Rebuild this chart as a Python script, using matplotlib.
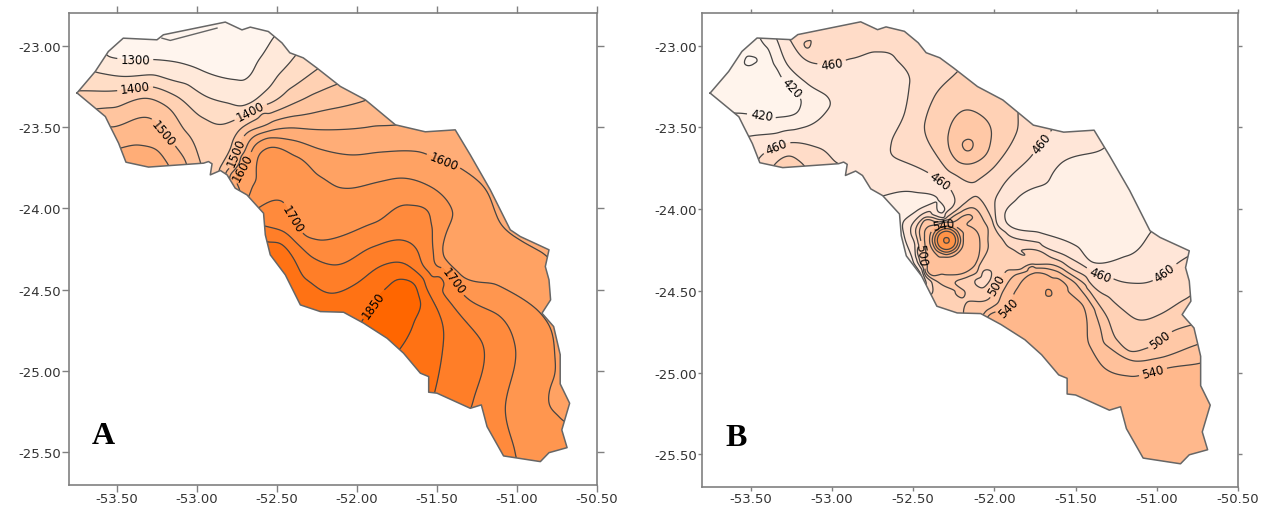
import numpy as np
import matplotlib
matplotlib.use('Agg')
import matplotlib.pyplot as plt
import matplotlib.tri as mtri
from matplotlib.patches import Polygon

plt.rcParams['axes.unicode_minus'] = False

# outline of the basin, lon/lat
outline = [(-53.75,-23.29),(-53.636,-23.158),(-53.554,-23.035),(-53.461,-22.953),(-53.25,-22.963),(-53.21,-22.932),
    (-52.823,-22.854),(-52.719,-22.902),(-52.667,-22.885),(-52.554,-22.912),(-52.469,-22.982),(-52.42,-23.043),
    (-52.336,-23.074),(-52.25,-23.137),(-52.104,-23.25),(-51.948,-23.332),(-51.76,-23.486),(-51.573,-23.529),
    (-51.386,-23.517),(-51.292,-23.671),(-51.167,-23.886),(-51.042,-24.132),(-50.98,-24.173),(-50.8,-24.255),
    (-50.823,-24.358),(-50.8,-24.44),(-50.79,-24.563),(-50.844,-24.645),(-50.771,-24.727),(-50.73,-24.90),
    (-50.73,-25.08),(-50.671,-25.199),(-50.72,-25.363),(-50.687,-25.472),(-50.8,-25.503),(-50.854,-25.558),
    (-51.084,-25.523),(-51.187,-25.343),(-51.223,-25.209),(-51.292,-25.23),(-51.5,-25.137),(-51.552,-25.131),
    (-51.552,-25.035),(-51.604,-25.014),(-51.709,-24.891),(-51.812,-24.799),(-51.959,-24.706),(-52.084,-24.639),
    (-52.229,-24.635),(-52.354,-24.594),(-52.448,-24.409),(-52.542,-24.286),(-52.573,-24.163),(-52.584,-24.03),
    (-52.688,-23.917),(-52.761,-23.876),(-52.812,-23.794),(-52.854,-23.767),(-52.917,-23.794),(-52.906,-23.726),
    (-52.928,-23.712),(-52.959,-23.722),(-53.303,-23.746),(-53.444,-23.716),(-53.49,-23.599),(-53.542,-23.497),
    (-53.573,-23.435)]
sliver = [(-53.219,-22.953),(-53.167,-22.967),(-52.875,-22.891)]

# panel A: points read along each isoline
iso_a = {
    1300: [(-53.604,-23.012),(-53.561,-23.068),(-53.448,-23.086),(-53.26,-23.086),(-52.979,-23.148),(-52.76,-23.209),
           (-52.698,-23.209),(-52.604,-23.074),(-52.523,-22.951),(-52.48,-22.889)],
    1350: [(-53.667,-23.148),(-53.625,-23.164),(-53.437,-23.189),(-53.167,-23.209),(-52.961,-23.302),(-52.812,-23.351),
           (-52.688,-23.363),(-52.563,-23.271),(-52.479,-23.166),(-52.398,-23.076),(-52.354,-23.012)],
    1400: [(-53.792,-23.277),(-53.75,-23.277),(-53.511,-23.277),(-53.271,-23.254),(-53.125,-23.312),(-52.959,-23.445),
           (-52.812,-23.476),(-52.667,-23.404),(-52.542,-23.353),(-52.26,-23.152),(-52.198,-23.098)],
    1450: [(-53.70,-23.42),(-53.625,-23.388),(-53.312,-23.322),(-53.187,-23.374),(-53.062,-23.537),(-52.979,-23.722),
           (-52.948,-23.825),(-52.867,-23.837),(-52.854,-23.751),(-52.792,-23.64),(-52.773,-23.578),(-52.71,-23.498),
           (-52.586,-23.412),(-52.373,-23.345),(-52.135,-23.24),(-52.042,-23.197)],
    1500: [(-53.604,-23.468),(-53.531,-23.5),(-53.292,-23.445),(-53.211,-23.535),(-53.125,-23.63),(-53.067,-23.72),
           (-53.042,-23.825),(-52.842,-23.855),(-52.779,-23.732),(-52.742,-23.64),(-52.688,-23.535),(-52.563,-23.486),
           (-52.27,-23.412),(-51.969,-23.343),(-51.886,-23.302)],
    1550: [(-53.511,-23.64),(-53.459,-23.623),(-53.375,-23.609),(-53.25,-23.64),(-53.184,-23.722),(-53.154,-23.825),
           (-52.786,-23.886),(-52.729,-23.681),(-52.667,-23.578),(-52.523,-23.517),(-52.292,-23.513),(-52.062,-23.513),
           (-51.687,-23.476),(-51.573,-23.443)],
    1600: [(-52.823,-23.886),(-52.761,-23.812),(-52.677,-23.691),(-52.636,-23.609),(-52.563,-23.568),(-52.417,-23.578),
           (-52.25,-23.63),(-52.042,-23.671),(-51.854,-23.654),(-51.625,-23.65),(-51.461,-23.712),(-51.354,-23.753),
           (-51.229,-23.845),(-51.125,-24.05),(-51.0,-24.183),(-50.854,-24.266),(-50.73,-24.33)],
    1650: [(-52.729,-23.978),(-52.677,-23.927),(-52.646,-23.855),(-52.615,-23.671),(-52.542,-23.623),(-52.375,-23.681),
           (-52.229,-23.804),(-52.084,-23.876),(-51.854,-23.835),(-51.709,-23.814),(-51.542,-23.866),(-51.406,-24.009),
           (-51.459,-24.297),(-51.354,-24.409),(-51.125,-24.471),(-50.854,-24.645),(-50.761,-24.953),(-50.803,-25.189),
           (-50.73,-25.291),(-50.636,-25.363)],
    1700: [(-52.667,-24.04),(-52.604,-23.989),(-52.5,-23.948),(-52.396,-24.071),(-52.334,-24.163),(-52.25,-24.194),
           (-51.896,-24.091),(-51.687,-23.978),(-51.562,-24.009),(-51.531,-24.112),(-51.521,-24.276),(-51.5,-24.358),
           (-51.334,-24.532),(-51.104,-24.666),(-51.011,-24.851),(-51.073,-25.22),(-51.011,-25.506),(-50.98,-25.64)],
    1750: [(-52.636,-24.102),(-52.567,-24.112),(-52.459,-24.143),(-52.271,-24.306),(-52.125,-24.348),(-51.896,-24.235),
           (-51.729,-24.194),(-51.625,-24.255),(-51.479,-24.42),(-51.209,-24.851),(-51.275,-25.189),(-51.323,-25.332)],
    1800: [(-52.636,-24.194),(-52.567,-24.204),(-52.479,-24.214),(-52.312,-24.44),(-52.146,-24.522),(-52.0,-24.46),
           (-51.834,-24.348),(-51.687,-24.348),(-51.562,-24.502),(-51.479,-24.666),(-51.459,-24.809),(-51.511,-25.117),
           (-51.542,-25.24)],
    1850: [(-52.042,-24.778),(-51.959,-24.676),(-51.896,-24.594),(-51.819,-24.491),(-51.729,-24.434),(-51.636,-24.471),
           (-51.604,-24.563),(-51.646,-24.706),(-51.723,-24.854),(-51.792,-24.963)],
}
# panel A: estimates between and outside the isolines
extra_a = [(-51.74,-24.6,1880),(-53.0,-23.0,1270),(-53.7,-22.9,1270),(-53.85,-23.05,1300),(-53.95,-23.28,1400),
    (-53.85,-23.45,1440),(-53.75,-23.5,1480),(-53.65,-23.6,1520),(-53.5,-23.85,1570),(-53.2,-23.9,1580),
    (-52.95,-24.0,1560),(-53.2,-24.0,1580),(-52.8,-24.05,1650),(-52.75,-24.2,1760),(-52.75,-24.35,1830),
    (-52.6,-24.6,1835),(-52.3,-24.8,1840),(-51.9,-25.1,1870),(-51.8,-25.5,1830),(-51.5,-25.6,1770),
    (-51.2,-25.75,1720),(-50.7,-25.75,1660),(-50.45,-25.5,1640),(-50.45,-24.9,1630),(-50.5,-24.3,1620),
    (-50.8,-23.9,1580),(-51.15,-23.5,1560),(-51.6,-23.25,1530),(-51.85,-23.15,1500),(-52.05,-23.05,1450),
    (-52.2,-22.95,1400),(-52.4,-22.85,1340),(-52.6,-22.75,1280),(-53.0,-22.7,1260),(-53.6,-22.8,1260),
    (-54.0,-22.6,1260),(-50.3,-22.6,1600),(-50.3,-25.9,1650),(-54.0,-25.9,1700)]
levels_a = [1300,1350,1400,1450,1500,1550,1600,1650,1700,1750,1800,1850]
colors_a = ['#fff5ee','#ffe9da','#ffddc6','#ffd1b3','#ffc59f','#ffb98b','#ffad77','#ffa263','#ff964f','#ff8a3c',
            '#ff7e28','#ff7214','#ff6600']
labels_a = [(-53.386,-23.086),(-53.386,-23.265),(-53.211,-23.535),(-52.667,-23.404),
    (-52.747,-23.658),(-52.698,-23.763),(-52.398,-24.058),(-51.461,-23.714),
    (-51.417,-24.458),(-51.89,-24.594)]

# panel B
iso_b = {
    400: [(-53.537,-23.093),(-53.496,-23.066),(-53.461,-23.083),(-53.486,-23.113),(-53.527,-23.119)],
    420: [(-53.445,-22.95),(-53.434,-22.97),(-53.321,-23.175),(-53.25,-23.256),(-53.192,-23.328),(-53.229,-23.419),
          (-53.342,-23.44),(-53.434,-23.426),(-53.588,-23.413),(-53.64,-23.4)],
    440: [(-53.342,-22.95),(-53.336,-22.97),(-53.27,-23.123),(-53.147,-23.236),(-53.024,-23.317),(-53.024,-23.389),
          (-53.147,-23.491),(-53.496,-23.552),(-53.537,-23.562),
          (-52.706,-23.924),(-52.675,-23.916),(-52.5,-23.895),(-52.347,-23.94),(-52.316,-24.022),(-52.312,-24.046),
          (-52.48,-24.012),(-52.562,-24.083),(-52.552,-24.175),(-52.5,-24.318),(-52.449,-24.409),
          (-51.33,-23.63),(-51.289,-23.603),(-51.597,-23.726),(-51.864,-23.94),(-51.936,-24.042),(-51.905,-24.103),
          (-51.72,-24.144),(-51.494,-24.226),(-51.402,-24.322),(-51.186,-24.287),(-51.026,-24.128),(-50.981,-24.093)],
    460: [(-53.27,-22.95),(-53.254,-22.97),(-53.167,-23.083),(-53.065,-23.113),(-52.88,-23.079),(-52.736,-23.038),
          (-52.613,-23.072),(-52.521,-23.226),(-52.552,-23.409),(-52.634,-23.593),(-52.593,-23.695),(-52.408,-23.777),
          (-52.336,-23.828),(-52.264,-23.889),(-52.254,-23.981),(-52.306,-24.038),
          (-53.445,-23.685),(-53.342,-23.617),(-53.25,-23.593),(-53.085,-23.624),(-52.972,-23.715),(-52.942,-23.756),
          (-52.316,-24.052),(-52.46,-24.042),(-52.511,-24.103),(-52.49,-24.216),(-52.46,-24.348),(-52.419,-24.45),
          (-51.638,-23.501),(-51.659,-23.532),(-51.71,-23.593),(-51.772,-23.675),(-51.956,-23.869),(-51.997,-23.96),
          (-51.987,-24.083),(-51.905,-24.164),(-51.7,-24.226),(-51.556,-24.287),(-51.433,-24.358),(-51.351,-24.399),
          (-51.258,-24.43),(-51.125,-24.454),(-51.032,-24.44),(-50.95,-24.389),(-50.837,-24.307),(-50.776,-24.277)],
    480: [(-53.172,-22.991),(-53.151,-22.971),(-53.131,-22.991),(-53.157,-23.015),
          (-53.352,-23.726),(-53.27,-23.675),(-53.184,-23.72),
          (-52.223,-23.154),(-52.244,-23.175),(-52.367,-23.307),(-52.428,-23.471),(-52.367,-23.654),(-52.213,-23.807),
          (-52.11,-23.828),(-51.987,-23.726),(-51.864,-23.532),(-51.854,-23.409),(-51.844,-23.368),
          (-52.439,-24.058),(-52.484,-24.124),(-52.464,-24.226),(-52.435,-24.369),(-52.378,-24.491),
          (-52.295,-24.052),(-52.152,-23.94),(-52.07,-23.96),(-52.008,-24.083),(-51.957,-24.175),(-51.905,-24.236),
          (-51.721,-24.256),(-51.535,-24.358),(-51.412,-24.45),(-51.186,-24.634),(-51.094,-24.679),(-50.981,-24.644),
          (-50.827,-24.552),(-50.735,-24.5),
          (-52.114,-24.43),(-52.069,-24.379),(-52.024,-24.43),(-52.069,-24.481)],
    500: [(-52.11,-23.409),(-52.018,-23.532),(-52.059,-23.675),(-52.213,-23.715),(-52.285,-23.552),(-52.213,-23.409),
          (-52.429,-24.067),(-52.46,-24.124),(-52.456,-24.256),(-52.429,-24.369),(-52.347,-24.446),(-52.213,-24.43),
          (-52.09,-24.338),(-52.039,-24.205),(-52.07,-24.062),(-52.141,-23.991),(-52.295,-24.067),
          (-50.714,-24.685),(-50.776,-24.705),(-50.899,-24.746),(-50.981,-24.797),(-51.053,-24.848),(-51.166,-24.869),
          (-51.248,-24.797),(-51.31,-24.654),(-51.433,-24.471),(-51.618,-24.348),(-51.761,-24.338),(-51.843,-24.369),
          (-51.926,-24.379),(-51.987,-24.461),(-52.038,-24.552),(-52.151,-24.563),(-52.182,-24.501),(-52.11,-24.389)],
    520: [(-52.162,-23.573),(-52.131,-23.607),(-52.162,-23.644),(-52.197,-23.607),
          (-52.295,-24.079),(-52.162,-24.032),(-52.09,-24.185),(-52.111,-24.328),(-52.213,-24.399),(-52.316,-24.399),
          (-52.419,-24.328),(-52.429,-24.205),(-52.398,-24.103),
          (-50.714,-24.818),(-50.766,-24.834),(-50.94,-24.899),(-51.125,-24.93),(-51.248,-24.879),(-51.351,-24.716),
          (-51.453,-24.512),(-51.618,-24.379),(-51.761,-24.348),(-51.864,-24.399),(-51.946,-24.501),(-52.038,-24.614),
          (-52.09,-24.675)],
    540: [(-50.673,-24.93),(-50.725,-24.94),(-50.93,-24.971),(-51.023,-24.997),(-51.166,-25.022),(-51.31,-24.981),
          (-51.412,-24.838),(-51.453,-24.593),(-51.597,-24.43),(-51.741,-24.389),(-51.864,-24.491),(-51.915,-24.603),
          (-52.028,-24.644),(-52.069,-24.695),
          (-52.192,-24.191),(-52.222,-24.118),(-52.295,-24.089),(-52.368,-24.118),(-52.398,-24.191),(-52.368,-24.264),
          (-52.295,-24.293),(-52.222,-24.264)],
    560: [(-51.683,-24.507),(-51.669,-24.491),(-51.648,-24.507),(-51.665,-24.532),
          (-52.207,-24.191),(-52.233,-24.129),(-52.295,-24.103),(-52.357,-24.129),(-52.383,-24.191),(-52.357,-24.253),
          (-52.295,-24.279),(-52.233,-24.253)],
    580: [(-52.223,-24.191),(-52.244,-24.14),(-52.295,-24.119),(-52.346,-24.14),(-52.367,-24.191),(-52.346,-24.242),
          (-52.295,-24.263),(-52.244,-24.242)],
    600: [(-52.2375,-24.191),(-52.254,-24.15),(-52.295,-24.1335),(-52.336,-24.15),(-52.3525,-24.191),(-52.336,-24.232),
          (-52.295,-24.2485),(-52.254,-24.232)],
    620: [(-52.279,-24.191),(-52.295,-24.175),(-52.311,-24.191),(-52.295,-24.207)],
}
extra_b = [(-53.5,-23.09,395),(-53.157,-22.99,485),(-52.162,-23.607,530),(-51.665,-24.51,570),(-52.295,-24.191,640),
    (-52.5,-23.96,430),(-52.665,-24.124,430),(-51.433,-24.042,430),(-51.228,-24.144,430),(-51.145,-23.736,430),
    (-51.75,-24.05,434),(-51.6,-23.95,432),(-51.3,-23.9,430),
    (-52.069,-24.43,475),(-53.27,-23.777,490),
    (-51.0,-25.2,548),(-50.85,-25.35,548),(-51.3,-25.1,546),(-51.7,-24.8,548),(-50.8,-25.1,546),(-51.05,-25.4,548),
    (-53.9,-23.3,410),(-53.6,-22.8,410),(-53.0,-22.75,470),(-52.5,-22.75,470),(-52.2,-23.0,470),(-52.0,-23.1,490),
    (-51.75,-23.3,470),(-51.4,-23.4,450),(-51.0,-23.7,430),(-50.7,-24.1,445),(-50.5,-24.4,470),(-50.45,-24.6,490),
    (-50.45,-24.85,525),(-50.45,-25.1,545),(-50.45,-25.7,550),(-51.0,-25.75,550),(-51.6,-25.5,550),(-52.0,-25.0,550),
    (-52.2,-24.8,545),(-52.25,-24.7,500),(-52.45,-24.6,490),(-52.6,-24.5,455),(-52.8,-24.3,432),(-53.0,-24.1,430),
    (-52.9,-23.85,450),(-53.3,-23.85,490),(-53.5,-23.75,455),(-53.65,-23.6,430),(-53.9,-23.7,410),(-53.8,-23.45,415),
    (-54.0,-22.6,400),(-50.3,-22.6,440),(-50.3,-25.9,550),(-54.0,-25.9,450)]
levels_b = [400,420,440,460,480,500,520,540,560,580,600,620]
colors_b = ['#fff6f0','#fff4ec','#fff0e6','#ffe6d8','#ffdcc8','#ffd1b5','#ffc8a6','#ffc19b','#ffb88c','#ffa86f',
            '#ff9c5a','#ff9347','#ff8a38']
labels_b = [(-53.003,-23.095),(-53.25,-23.256),(-53.434,-23.426),(-53.342,-23.617),(-52.336,-23.828),
    (-51.71,-23.593),(-51.351,-24.399),(-50.95,-24.389),(-50.981,-24.797),(-51.023,-24.997),
    (-51.987,-24.461),(-51.915,-24.603),(-52.45,-24.28),(-52.316,-24.09)]


def make_grid(iso, extra, blur):
    pts = [(x, y, lev) for lev, line in iso.items() for x, y in line] + extra
    xs, ys, zs = np.array(pts).T
    tri = mtri.Triangulation(xs, ys)
    interp = mtri.CubicTriInterpolator(tri, zs, kind='geom')
    gx, gy = np.meshgrid(np.arange(-53.85, -50.44, 0.005), np.arange(-25.75, -22.75, 0.005))
    gz = interp(gx, gy).filled(np.median(zs))
    # round off what corners the triangles leave
    kernel = np.ones(blur) / blur
    for _ in range(2):
        gz = np.apply_along_axis(lambda r: np.convolve(r, kernel, mode='same'), 1, gz)
        gz = np.apply_along_axis(lambda r: np.convolve(r, kernel, mode='same'), 0, gz)
    return gx[blur:-blur, blur:-blur], gy[blur:-blur, blur:-blur], gz[blur:-blur, blur:-blur]


def draw_panel(ax, iso, extra, levels, colors, labels, letter, blur, tick_len):
    gx, gy, gz = make_grid(iso, extra, blur)
    clip = Polygon(outline, closed=True, transform=ax.transData, fc='none', ec='none')
    ax.add_patch(clip)
    fill_levels = [levels[0] - 500] + levels + [levels[-1] + 500]
    cf = ax.contourf(gx, gy, gz, levels=fill_levels, colors=colors)
    cf.set_clip_path(clip)
    cs = ax.contour(gx, gy, gz, levels=levels, colors='#444444', linewidths=0.9)
    cs.set_clip_path(clip)
    ax.clabel(cs, manual=labels, fmt='%d', fontsize=8.5, inline=True, inline_spacing=3, colors='black')
    bx, by = zip(*(outline + outline[:1]))
    ax.plot(bx, by, color='#666666', lw=1.1)
    ax.set_xlim(-53.8, -50.5)
    ax.set_ylim(-25.7, -22.8)
    ax.set_xticks([-53.5, -53.0, -52.5, -52.0, -51.5, -51.0, -50.5])
    ax.set_yticks([-23.0, -23.5, -24.0, -24.5, -25.0, -25.5])
    ax.xaxis.set_major_formatter('{x:.2f}')
    ax.yaxis.set_major_formatter('{x:.2f}')
    ax.tick_params(top=True, right=True, direction='out', length=tick_len, width=1, color='#808080',
                   labelcolor='#333333', labelsize=9.5, pad=0.5)
    for s in ax.spines.values():
        s.set_color('#808080')
        s.set_linewidth(1.2)
    ax.text(0.044, 0.105, letter, transform=ax.transAxes, family='Liberation Serif', weight='bold', fontsize=23,
            color='black', va='center')


fig = plt.figure(figsize=(12.8, 5.06), dpi=100)
W, H = 1280, 506
ax_a = fig.add_axes([69 / W, 1 - 485.7 / H, 528 / W, 471.4 / H])
ax_b = fig.add_axes([702 / W, 1 - 488 / H, 536 / W, 474 / H])
draw_panel(ax_a, iso_a, extra_a, levels_a, colors_a, labels_a, 'A', 7, 5)
sx, sy = zip(*sliver)
ax_a.plot(sx, sy, color='#666666', lw=1)
draw_panel(ax_b, iso_b, extra_b, levels_b, colors_b, labels_b, 'B', 3, 3)
fig.savefig('out.png', dpi=100)
